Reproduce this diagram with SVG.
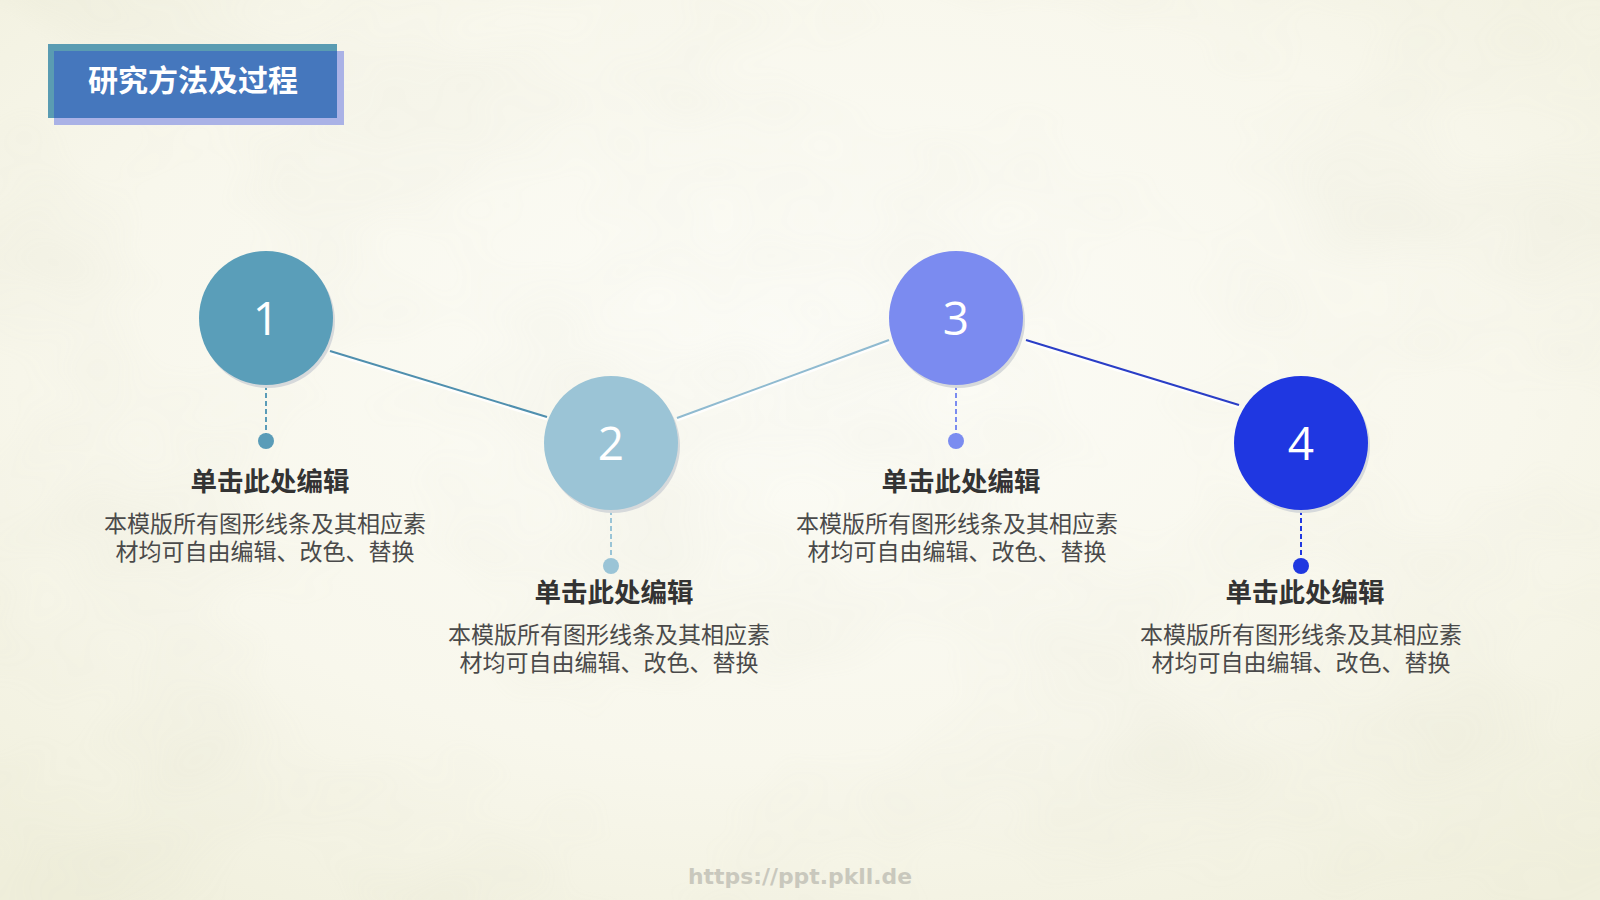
<svg xmlns="http://www.w3.org/2000/svg" width="1600" height="900" viewBox="0 0 1600 900">
<defs>
<radialGradient id="bg" cx="50%" cy="40%" r="75%">
<stop offset="0" stop-color="#fcfcf7"/>
<stop offset="0.6" stop-color="#f8f7ec"/>
<stop offset="1" stop-color="#f0efdc"/>
</radialGradient>
<filter id="paper" x="0" y="0" width="100%" height="100%">
<feTurbulence type="fractalNoise" baseFrequency="0.004 0.006" numOctaves="3" seed="7" result="n"/>
<feColorMatrix in="n" type="matrix" values="0 0 0 0 0.55  0 0 0 0 0.55  0 0 0 0 0.4  0 0 0 0.9 -0.35"/>
</filter>
<style>
.num{font-family:"Open Sans","Noto Sans",sans-serif;font-size:46px;fill:#fff;text-anchor:middle}
.hd{font-family:"Noto Sans CJK SC","Noto Sans",sans-serif;font-weight:700;font-size:26.5px;fill:#333;text-anchor:middle}
.bd{font-family:"Noto Sans CJK SC","Noto Sans",sans-serif;font-size:23px;fill:#4a4a4a;text-anchor:middle}
.sh{fill:#d6d9db}
.lnsh{stroke:#ffffff;stroke-width:3;opacity:0.9}
</style>
</defs>
<rect width="1600" height="900" fill="url(#bg)"/>
<rect width="1600" height="900" filter="url(#paper)" opacity="0.22"/>

<g id="title">
<rect x="48" y="44" width="289" height="74" fill="#5a9cb2"/>
<rect x="54" y="51" width="290" height="74" fill="#aab2e6"/>
<rect x="54" y="51" width="283" height="67" fill="#4577bd"/>
<text x="193" y="91" font-family="Noto Sans CJK SC,sans-serif" font-weight="700" font-size="30" fill="#fff" text-anchor="middle">研究方法及过程</text>
</g>

<g id="connectors">
<line class="lnsh" x1="330" y1="353" x2="547" y2="419"/>
<line x1="330" y1="351" x2="547" y2="417" stroke="#4f8fae" stroke-width="2"/>
<line class="lnsh" x1="677" y1="420" x2="889" y2="342"/>
<line x1="677" y1="418" x2="889" y2="340" stroke="#8fbad0" stroke-width="2"/>
<line class="lnsh" x1="1026" y1="342" x2="1239" y2="407"/>
<line x1="1026" y1="340" x2="1239" y2="405" stroke="#2a3ec6" stroke-width="2"/>
<line x1="266" y1="385" x2="266" y2="434" stroke="#5a9cb8" stroke-width="2" stroke-dasharray="5,3"/>
<line x1="611" y1="510" x2="611" y2="558" stroke="#9ac4d6" stroke-width="2" stroke-dasharray="5,3"/>
<line x1="956" y1="385" x2="956" y2="434" stroke="#7b8cf0" stroke-width="2" stroke-dasharray="5,3"/>
<line x1="1301" y1="510" x2="1301" y2="558" stroke="#2038e0" stroke-width="2" stroke-dasharray="5,3"/>
</g>

<g id="node1">
<circle class="sh" cx="268" cy="321" r="67"/>
<circle cx="266" cy="318" r="67" fill="#5a9eb9"/>
<text class="num" x="266" y="335">1</text>
<circle cx="266" cy="441" r="8" fill="#5a9cb8"/>
<text class="hd" x="270" y="491">单击此处编辑</text>
<text class="bd" x="265" y="532">本模版所有图形线条及其相应素</text>
<text class="bd" x="265" y="560">材均可自由编辑、改色、替换</text>
</g>

<g id="node2">
<circle class="sh" cx="613" cy="446" r="67"/>
<circle cx="611" cy="443" r="67" fill="#9bc4d6"/>
<text class="num" x="611" y="460">2</text>
<circle cx="611" cy="566" r="8" fill="#9ac4d6"/>
<text class="hd" x="614" y="602">单击此处编辑</text>
<text class="bd" x="609" y="643">本模版所有图形线条及其相应素</text>
<text class="bd" x="609" y="671">材均可自由编辑、改色、替换</text>
</g>

<g id="node3">
<circle class="sh" cx="958" cy="321" r="67"/>
<circle cx="956" cy="318" r="67" fill="#7b8bf0"/>
<text class="num" x="956" y="335">3</text>
<circle cx="956" cy="441" r="8" fill="#7b8cf0"/>
<text class="hd" x="961" y="491">单击此处编辑</text>
<text class="bd" x="957" y="532">本模版所有图形线条及其相应素</text>
<text class="bd" x="957" y="560">材均可自由编辑、改色、替换</text>
</g>

<g id="node4">
<circle class="sh" cx="1303" cy="446" r="67"/>
<circle cx="1301" cy="443" r="67" fill="#1f37e1"/>
<text class="num" x="1301" y="460">4</text>
<circle cx="1301" cy="566" r="8" fill="#2038e0"/>
<text class="hd" x="1305" y="602">单击此处编辑</text>
<text class="bd" x="1301" y="643">本模版所有图形线条及其相应素</text>
<text class="bd" x="1301" y="671">材均可自由编辑、改色、替换</text>
</g>

<text x="800" y="884" font-family="DejaVu Sans,sans-serif" font-weight="700" font-size="22" fill="#c9c8bd" text-anchor="middle" textLength="224" lengthAdjust="spacingAndGlyphs">https://ppt.pkll.de</text>
</svg>
